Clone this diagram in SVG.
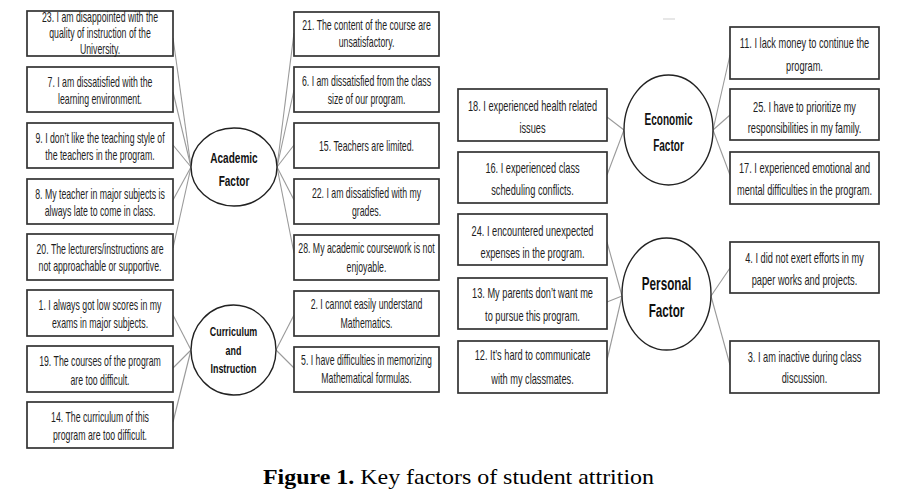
<svg xmlns="http://www.w3.org/2000/svg" width="904" height="501" viewBox="0 0 904 501">
<style>
.bg{fill:#fff}
.box{fill:#fff;stroke:#333;stroke-width:1.7}
.hub{fill:#fff;stroke:#222;stroke-width:1.4}
.con line{stroke:#9a9a9a;stroke-width:1.1}
.s{font-family:"Liberation Sans",Arial,sans-serif;font-size:14px;fill:#1e1e1e;text-anchor:middle}
.r{font-family:"Liberation Sans",Arial,sans-serif;font-size:15px;fill:#1e1e1e;text-anchor:middle}
.h{font-family:"Liberation Sans",Arial,sans-serif;font-weight:bold;fill:#111;text-anchor:middle}
.cap{font-family:"Liberation Serif","Times New Roman",serif;font-size:21px;fill:#000}
</style>
<rect class="bg" x="0" y="0" width="904" height="501"/>
<line x1="663" y1="19" x2="675" y2="19" stroke="#cfcfcf" stroke-width="1"/>

<g id="connectors" class="con">
<line x1="173" y1="38" x2="191" y2="167"/>
<line x1="173" y1="92" x2="191" y2="167"/>
<line x1="173" y1="145" x2="191" y2="167"/>
<line x1="173" y1="200" x2="191" y2="167"/>
<line x1="173" y1="248" x2="191" y2="167"/>
<line x1="277" y1="167" x2="294" y2="33"/>
<line x1="277" y1="167" x2="294" y2="90"/>
<line x1="277" y1="167" x2="294" y2="145"/>
<line x1="277" y1="167" x2="294" y2="200"/>
<line x1="277" y1="167" x2="294" y2="253"/>
<line x1="173" y1="315" x2="191" y2="350"/>
<line x1="173" y1="368" x2="191" y2="350"/>
<line x1="173" y1="422" x2="191" y2="350"/>
<line x1="276" y1="350" x2="294" y2="315"/>
<line x1="276" y1="350" x2="294" y2="368"/>
<line x1="607" y1="117" x2="624" y2="130"/>
<line x1="607" y1="175" x2="624" y2="130"/>
<line x1="713" y1="130" x2="730" y2="55"/>
<line x1="713" y1="130" x2="730" y2="115"/>
<line x1="713" y1="130" x2="730" y2="175"/>
<line x1="607" y1="242" x2="622" y2="296"/>
<line x1="607" y1="302" x2="622" y2="296"/>
<line x1="607" y1="360" x2="622" y2="296"/>
<line x1="711" y1="296" x2="730" y2="268"/>
<line x1="711" y1="296" x2="730" y2="365"/>
</g>

<g id="academic">
<ellipse class="hub" cx="234" cy="167" rx="43" ry="39"/>
<text class="h" font-size="15" transform="matrix(.67 0 0 1 234 0)"><tspan x="0" y="163">Academic</tspan><tspan x="0" y="186">Factor</tspan></text>
</g>
<g id="curriculum">
<ellipse class="hub" cx="233.5" cy="350" rx="42.5" ry="45"/>
<text class="h" font-size="13.5" transform="matrix(.66 0 0 1 233.5 0)"><tspan x="0" y="336">Curriculum</tspan><tspan x="0" y="355">and</tspan><tspan x="0" y="373">Instruction</tspan></text>
</g>
<g id="economic">
<ellipse class="hub" cx="668.5" cy="130" rx="44.5" ry="55"/>
<text class="h" font-size="16.5" transform="matrix(.61 0 0 1 668.5 0)"><tspan x="0" y="125">Economic</tspan><tspan x="0" y="151">Factor</tspan></text>
</g>
<g id="personal">
<ellipse class="hub" cx="666.5" cy="294" rx="44.5" ry="56"/>
<text class="h" font-size="18" transform="matrix(.65 0 0 1 666.5 0)"><tspan x="0" y="290">Personal</tspan><tspan x="0" y="317">Factor</tspan></text>
</g>

<g id="n23"><rect class="box" x="27" y="11" width="146" height="45"/>
<text class="s" transform="matrix(.625 0 0 1 100 0)"><tspan x="0" y="22">23. I am disappointed with the</tspan><tspan x="0" y="38">quality of instruction of the</tspan><tspan x="0" y="54">University.</tspan></text></g>
<g id="n7"><rect class="box" x="27" y="67" width="146" height="45"/>
<text class="s" transform="matrix(.625 0 0 1 100 0)"><tspan x="0" y="87">7. I am dissatisfied with the</tspan><tspan x="0" y="104">learning environment.</tspan></text></g>
<g id="n9"><rect class="box" x="27" y="123" width="146" height="45"/>
<text class="s" transform="matrix(.625 0 0 1 100 0)"><tspan x="0" y="143">9. I don’t like the teaching style of</tspan><tspan x="0" y="160">the teachers in the program.</tspan></text></g>
<g id="n8"><rect class="box" x="27" y="179" width="146" height="45"/>
<text class="s" transform="matrix(.625 0 0 1 100 0)"><tspan x="0" y="199">8. My teacher in major subjects is</tspan><tspan x="0" y="216">always late to come in class.</tspan></text></g>
<g id="n20"><rect class="box" x="27" y="234" width="146" height="46"/>
<text class="s" transform="matrix(.625 0 0 1 100 0)"><tspan x="0" y="254">20. The lecturers/instructions are</tspan><tspan x="0" y="271">not approachable or supportive.</tspan></text></g>
<g id="n1"><rect class="box" x="27" y="290" width="146" height="46"/>
<text class="s" transform="matrix(.625 0 0 1 100 0)"><tspan x="0" y="310">1. I always got low scores in my</tspan><tspan x="0" y="328">exams in major subjects.</tspan></text></g>
<g id="n19"><rect class="box" x="27" y="346" width="146" height="46"/>
<text class="s" transform="matrix(.625 0 0 1 100 0)"><tspan x="0" y="366">19. The courses of the program</tspan><tspan x="0" y="385">are too difficult.</tspan></text></g>
<g id="n14"><rect class="box" x="27" y="402" width="146" height="46"/>
<text class="s" transform="matrix(.625 0 0 1 100 0)"><tspan x="0" y="422">14. The curriculum of this</tspan><tspan x="0" y="440">program are too difficult.</tspan></text></g>

<g id="n21"><rect class="box" x="294" y="12" width="145" height="44"/>
<text class="s" transform="matrix(.625 0 0 1 366.5 0)"><tspan x="0" y="30">21. The content of the course are</tspan><tspan x="0" y="47">unsatisfactory.</tspan></text></g>
<g id="n6"><rect class="box" x="294" y="67" width="145" height="45"/>
<text class="s" transform="matrix(.625 0 0 1 366.5 0)"><tspan x="0" y="86">6. I am dissatisfied from the class</tspan><tspan x="0" y="104">size of our program.</tspan></text></g>
<g id="n15"><rect class="box" x="294" y="123" width="145" height="45"/>
<text class="s" transform="matrix(.625 0 0 1 366.5 0)"><tspan x="0" y="151">15. Teachers are limited.</tspan></text></g>
<g id="n22"><rect class="box" x="294" y="179" width="145" height="45"/>
<text class="s" transform="matrix(.625 0 0 1 366.5 0)"><tspan x="0" y="198">22. I am dissatisfied with my</tspan><tspan x="0" y="216">grades.</tspan></text></g>
<g id="n28"><rect class="box" x="294" y="235" width="145" height="45"/>
<text class="s" transform="matrix(.625 0 0 1 366.5 0)"><tspan x="0" y="253">28. My academic coursework is not</tspan><tspan x="0" y="272">enjoyable.</tspan></text></g>
<g id="n2"><rect class="box" x="294" y="291" width="145" height="45"/>
<text class="s" transform="matrix(.625 0 0 1 366.5 0)"><tspan x="0" y="309">2. I cannot easily understand</tspan><tspan x="0" y="328">Mathematics.</tspan></text></g>
<g id="n5"><rect class="box" x="294" y="347" width="145" height="45"/>
<text class="s" transform="matrix(.625 0 0 1 366.5 0)"><tspan x="0" y="365">5. I have difficulties in memorizing</tspan><tspan x="0" y="383">Mathematical formulas.</tspan></text></g>

<g id="n18"><rect class="box" x="458" y="89" width="149" height="52"/>
<text class="r" transform="matrix(.615 0 0 1 532.5 0)"><tspan x="0" y="111">18. I experienced health related</tspan><tspan x="0" y="133">issues</tspan></text></g>
<g id="n16"><rect class="box" x="458" y="152" width="149" height="51"/>
<text class="r" transform="matrix(.615 0 0 1 532.5 0)"><tspan x="0" y="173">16.  I experienced class</tspan><tspan x="0" y="195">scheduling conflicts.</tspan></text></g>
<g id="n24"><rect class="box" x="458" y="214" width="149" height="51"/>
<text class="r" transform="matrix(.615 0 0 1 532.5 0)"><tspan x="0" y="236">24. I encountered unexpected</tspan><tspan x="0" y="258">expenses in the program.</tspan></text></g>
<g id="n13"><rect class="box" x="458" y="278" width="149" height="51"/>
<text class="r" transform="matrix(.615 0 0 1 532.5 0)"><tspan x="0" y="298">13. My parents don’t want me</tspan><tspan x="0" y="321">to pursue this program.</tspan></text></g>
<g id="n12"><rect class="box" x="458" y="341" width="149" height="52"/>
<text class="r" transform="matrix(.615 0 0 1 532.5 0)"><tspan x="0" y="360">12. It’s hard to communicate</tspan><tspan x="0" y="384">with my classmates.</tspan></text></g>

<g id="n11"><rect class="box" x="730" y="27" width="149" height="52"/>
<text class="r" transform="matrix(.615 0 0 1 804.5 0)"><tspan x="0" y="48">11. I lack money to continue the</tspan><tspan x="0" y="71">program.</tspan></text></g>
<g id="n25"><rect class="box" x="730" y="89" width="149" height="51"/>
<text class="r" transform="matrix(.615 0 0 1 804.5 0)"><tspan x="0" y="112">25. I have to prioritize my</tspan><tspan x="0" y="133">responsibilities in my family.</tspan></text></g>
<g id="n17"><rect class="box" x="730" y="152" width="149" height="52"/>
<text class="r" transform="matrix(.615 0 0 1 804.5 0)"><tspan x="0" y="173">17. I experienced emotional and</tspan><tspan x="0" y="195">mental difficulties in the program.</tspan></text></g>
<g id="n4"><rect class="box" x="730" y="242" width="149" height="51"/>
<text class="r" transform="matrix(.615 0 0 1 804.5 0)"><tspan x="0" y="263">4. I did not exert efforts in my</tspan><tspan x="0" y="285">paper works and projects.</tspan></text></g>
<g id="n3"><rect class="box" x="730" y="341" width="149" height="52"/>
<text class="r" transform="matrix(.615 0 0 1 804.5 0)"><tspan x="0" y="362">3. I am inactive during class</tspan><tspan x="0" y="383">discussion.</tspan></text></g>

<text class="cap" x="263" y="484" textLength="391" lengthAdjust="spacingAndGlyphs"><tspan font-weight="bold">Figure 1.</tspan> Key factors of student attrition</text>
</svg>
